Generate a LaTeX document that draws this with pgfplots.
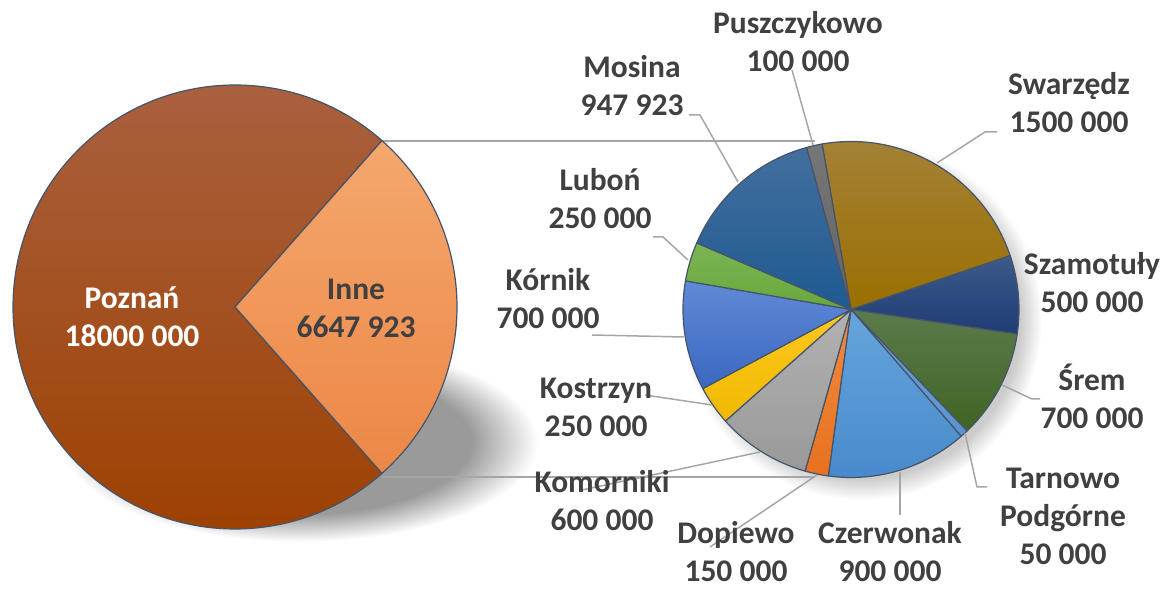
\documentclass[border=0pt]{standalone}
\usepackage{pgfplots}
\pgfplotsset{compat=1.18}
\usepackage{fontspec}
\setmainfont{Carlito}

\definecolor{edgec}{HTML}{44546A}
\definecolor{leadc}{HTML}{A6A6A6}
\definecolor{txtc}{HTML}{404040}
\definecolor{shadowc}{HTML}{9A9A9A}
\definecolor{shadowr}{HTML}{CCCCCC}
% left pie
\definecolor{pozT}{HTML}{AA6242}\definecolor{pozB}{HTML}{9D4000}
\definecolor{innT}{HTML}{F5A76E}\definecolor{innB}{HTML}{EC8746}
% right pie
\definecolor{swaT}{HTML}{A5823A}\definecolor{swaB}{HTML}{9A6F00}
\definecolor{szaT}{HTML}{3D5A8A}\definecolor{szaB}{HTML}{1F3C74}
\definecolor{sreT}{HTML}{5B7B4C}\definecolor{sreB}{HTML}{3F6424}
\definecolor{tarT}{HTML}{6FA0DA}\definecolor{tarB}{HTML}{5B93D0}
\definecolor{czeT}{HTML}{66A5DC}\definecolor{czeB}{HTML}{4789CB}
\definecolor{dopT}{HTML}{F28A40}\definecolor{dopB}{HTML}{E8711F}
\definecolor{komT}{HTML}{B2B2B2}\definecolor{komB}{HTML}{999999}
\definecolor{kosT}{HTML}{FFC820}\definecolor{kosB}{HTML}{EFB900}
\definecolor{korT}{HTML}{6189D6}\definecolor{korB}{HTML}{3A68C0}
\definecolor{lubT}{HTML}{7AB552}\definecolor{lubB}{HTML}{68A83E}
\definecolor{mosT}{HTML}{436F9E}\definecolor{mosB}{HTML}{1E5A91}
\definecolor{pusT}{HTML}{767676}\definecolor{pusB}{HTML}{646464}

\pgfdeclareradialshading{lshadow}{\pgfpoint{0bp}{0bp}}{color(0bp)=(shadowc); color(18bp)=(shadowc); color(25bp)=(white); color(50bp)=(white)}
\pgfdeclareradialshading{rshadow}{\pgfpoint{0bp}{0bp}}{color(0bp)=(shadowr); color(22bp)=(shadowr); color(25bp)=(white); color(50bp)=(white)}

\begin{document}
\begin{tikzpicture}
\begin{axis}[x=1pt,y=1pt,xmin=0,xmax=1170,ymin=-589,ymax=0,hide axis,clip=false]
% shadows
\shade[shading=lshadow] (axis cs:300,-442) ellipse[x radius=238pt, y radius=100pt];
\shade[shading=rshadow] (axis cs:862,-320) circle[radius=180pt];
% connector lines
\draw[leadc, line width=1.5pt] (axis cs:382,-141) -- (axis cs:815,-141);
\draw[leadc, line width=1.5pt] (axis cs:382,-477) -- (axis cs:815,-477);
% left pie: Poznan 18000000, Inne 6647923
\xdef\inA{\fpeval{-6647923/(18000000+6647923)*180}}
\xdef\inB{\fpeval{6647923/(18000000+6647923)*180}}
\xdef\poB{\fpeval{\inA+360}}
\edef\temp{\noexpand\path[draw=edgec, line width=1.2pt, line join=round, top color=pozT, bottom color=pozB] (axis cs:235,-307) -- ++(\inB:222pt) arc[start angle=\inB, end angle=\poB, radius=222pt] -- cycle;}
\temp
\edef\temp{\noexpand\path[draw=edgec, line width=1.2pt, line join=round, top color=innT, bottom color=innB] (axis cs:235,-307) -- ++(\inA:222pt) arc[start angle=\inA, end angle=\inB, radius=222pt] -- cycle;}
\temp
% right pie (clockwise from Swarzedz)
\gdef\angA{99.9}
\foreach \v/\ct/\cb in {1500000/swaT/swaB, 500000/szaT/szaB, 700000/sreT/sreB, 50000/tarT/tarB, 900000/czeT/czeB, 150000/dopT/dopB, 600000/komT/komB, 250000/kosT/kosB, 700000/korT/korB, 250000/lubT/lubB, 947923/mosT/mosB, 100000/pusT/pusB}{
  \xdef\angB{\fpeval{\angA-\v/6647923*360}}
  \edef\temp{\noexpand\path[draw=edgec, line width=1.2pt, line join=round, top color=\ct, bottom color=\cb] (axis cs:851,-309.5) -- ++(\angA:168pt) arc[start angle=\angA, end angle=\angB, radius=168pt] -- cycle;}
  \temp
  \global\let\angA\angB
}
% leader lines
\draw[leadc, line width=1.5pt] (axis cs:792,-70) -- (axis cs:813,-145);
\draw[leadc, line width=1.5pt] (axis cs:689,-115) -- (axis cs:700,-115) -- (axis cs:738,-182);
\draw[leadc, line width=1.5pt] (axis cs:653,-237) -- (axis cs:663,-237) -- (axis cs:688,-260);
\draw[leadc, line width=1.5pt] (axis cs:592,-335) -- (axis cs:684,-337);
\draw[leadc, line width=1.5pt] (axis cs:645,-395) -- (axis cs:712,-405);
\draw[leadc, line width=1.5pt] (axis cs:582,-490) -- (axis cs:760,-452);
\draw[leadc, line width=1.5pt] (axis cs:710,-547) -- (axis cs:817,-475);
\draw[leadc, line width=1.5pt] (axis cs:900,-472) -- (axis cs:900,-515);
\draw[leadc, line width=1.5pt] (axis cs:965,-433) -- (axis cs:977,-487) -- (axis cs:987,-487);
\draw[leadc, line width=1.5pt] (axis cs:1002,-385) -- (axis cs:1032,-399) -- (axis cs:1040,-399);
\draw[leadc, line width=1.5pt] (axis cs:997,-132) -- (axis cs:985,-132) -- (axis cs:937,-163);
% labels
\tikzset{lab/.style={align=center, font=\bfseries\fontsize{31.5}{38}\selectfont, text=txtc, inner sep=0pt}}
\node[lab, text=white] at (axis cs:132,-316.5) {Poznań\\18000 000};
\node[lab] at (axis cs:356,-308) {Inne\\6647 923};
\node[lab] at (axis cs:798,-42) {Puszczykowo\\100 000};
\node[lab] at (axis cs:632,-86) {Mosina\\947 923};
\node[lab] at (axis cs:600,-199) {Luboń\\250 000};
\node[lab] at (axis cs:548,-299) {Kórnik\\700 000};
\node[lab] at (axis cs:596,-407) {Kostrzyn\\250 000};
\node[lab] at (axis cs:602,-501) {Komorniki\\600 000};
\node[lab] at (axis cs:736,-552) {Dopiewo\\150 000};
\node[lab] at (axis cs:890,-552) {Czerwonak\\900 000};
\node[lab] at (axis cs:1063,-516) {Tarnowo\\Podgórne\\50 000};
\node[lab] at (axis cs:1092,-396) {Śrem\\700 000};
\node[lab] at (axis cs:1092,-283) {Szamotuły\\500 000};
\node[lab] at (axis cs:1069,-103) {Swarzędz\\1500 000};
\end{axis}
\pgfresetboundingbox
\useasboundingbox (current axis.south west) rectangle (current axis.north east);
\end{tikzpicture}
\end{document}
